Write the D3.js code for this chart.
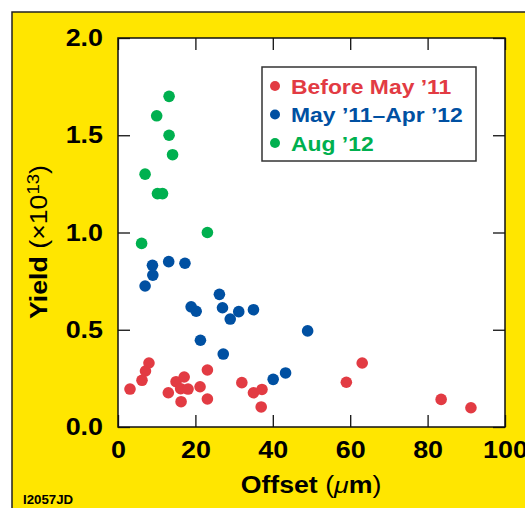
<!DOCTYPE html>
<html lang="en">
<head>
<meta charset="UTF-8">
<script src="https://d3js.org/d3.v7.min.js"></script>
<title>Yield vs Offset</title>
<style>
  body { margin: 0; background: #fff; }
  svg { display: block; }
  text { font-family: 'Liberation Sans', Arial, sans-serif; }
</style>
</head>
<body>
<svg id="canvas"></svg>
<script>
// data: offset (um) and yield (x1e13)
let beforeX = [3.1, 6.2, 7.1, 8.0, 13.0, 15.0, 16.2, 16.3, 17.1, 18.1, 21.2, 23.1, 23.1, 32.0, 35.0, 37.2, 37.0, 59.0, 63.1, 83.5, 91.2]
let beforeY = [0.195, 0.240, 0.288, 0.329, 0.176, 0.233, 0.197, 0.130, 0.257, 0.195, 0.207, 0.293, 0.144, 0.228, 0.176, 0.193, 0.103, 0.230, 0.329, 0.142, 0.099]

let midX = [7.0, 8.9, 9.0, 13.1, 17.3, 18.9, 20.2, 21.3, 26.2, 27.0, 27.2, 29.0, 31.2, 35.0, 40.1, 43.3, 49.0]
let midY = [0.725, 0.831, 0.781, 0.850, 0.842, 0.618, 0.595, 0.446, 0.682, 0.613, 0.375, 0.555, 0.593, 0.603, 0.245, 0.278, 0.494]

let augX = [6.1, 7.0, 10.0, 10.2, 11.5, 13.2, 13.2, 14.1, 23.1]
let augY = [0.944, 1.30, 1.60, 1.20, 1.20, 1.70, 1.50, 1.40, 1.00]

let seriesNames = ['Before May \u201911', 'May \u201911\u2013Apr \u201912', 'Aug \u201912']
let seriesColors = ['#e23b43', '#0050a2', '#00b04f']

let xTicks = [0, 20, 40, 60, 80, 100]
let yTicks = [0, 0.5, 1.0, 1.5, 2.0]

let width = 525
let height = 508
let plotLeft = 118, plotRight = 505, plotTop = 38, plotBottom = 427

let svg = d3.select('#canvas').attr('width', width).attr('height', height)

// the original lettering is a bit wider than Liberation Sans
let stretch = (sel, k) => {
    sel.each(function () {
        let len = this.getComputedTextLength()
        d3.select(this).attr('textLength', len * k).attr('lengthAdjust', 'spacingAndGlyphs')
    })
}

// yellow frame
svg.append('rect')
    .attr('x', 12).attr('y', 12)
    .attr('width', width + 10).attr('height', height + 10)
    .attr('fill', '#ffe600')
    .attr('stroke', '#222').attr('stroke-width', 1.5)

let xScale = d3.scaleLinear().domain([0, 100]).range([plotLeft, plotRight])
let yScale = d3.scaleLinear().domain([0, 2]).range([plotBottom, plotTop])

svg.append('rect')
    .attr('x', plotLeft).attr('y', plotTop)
    .attr('width', plotRight - plotLeft).attr('height', plotBottom - plotTop)
    .attr('fill', '#fff')

let styleAxis = (g) => {
    g.select('.domain').remove()
    g.selectAll('line').attr('stroke', '#111').attr('stroke-width', 1.3)
    g.selectAll('text')
        .attr('fill', '#000')
        .style('font-size', '24px')
        .style('font-weight', 'bold')
        .style('font-family', "'Liberation Sans', Arial, sans-serif")
        .call(stretch, 1.12)
}

svg.append('g')
    .attr('transform', 'translate(0,' + plotBottom + ')')
    .call(d3.axisBottom(xScale).tickValues(xTicks).tickSizeInner(-12).tickSizeOuter(0).tickPadding(14).tickFormat(d3.format('d')))
    .call(styleAxis)
svg.append('g')
    .attr('transform', 'translate(0,' + plotTop + ')')
    .call(d3.axisTop(xScale).tickValues(xTicks).tickSizeInner(-12).tickSizeOuter(0).tickFormat(''))
    .call(styleAxis)
svg.append('g')
    .attr('transform', 'translate(' + plotLeft + ',0)')
    .call(d3.axisLeft(yScale).tickValues(yTicks).tickSizeInner(-12).tickSizeOuter(0).tickPadding(15).tickFormat(d3.format('.1f')))
    .call(styleAxis)
svg.append('g')
    .attr('transform', 'translate(' + plotRight + ',0)')
    .call(d3.axisRight(yScale).tickValues(yTicks).tickSizeInner(-12).tickSizeOuter(0).tickFormat(''))
    .call(styleAxis)

svg.append('rect')
    .attr('x', plotLeft).attr('y', plotTop)
    .attr('width', plotRight - plotLeft).attr('height', plotBottom - plotTop)
    .attr('fill', 'none')
    .attr('stroke', '#111').attr('stroke-width', 1.5)

// points
let series = [
    d3.zip(beforeX, beforeY),
    d3.zip(midX, midY),
    d3.zip(augX, augY)
]
series.forEach((pts, i) => {
    svg.append('g').selectAll('circle')
        .data(pts)
        .enter()
        .append('circle')
        .attr('cx', (d) => xScale(d[0]))
        .attr('cy', (d) => yScale(d[1]))
        .attr('r', 5.8)
        .attr('fill', seriesColors[i])
})

// legend
let legend = svg.append('g')
legend.append('rect')
    .attr('x', 262).attr('y', 67)
    .attr('width', 214).attr('height', 94)
    .attr('fill', '#fff')
    .attr('stroke', '#333').attr('stroke-width', 1.5)
seriesNames.forEach((name, i) => {
    let cy = 86 + i * 28.5
    legend.append('circle')
        .attr('cx', 275).attr('cy', cy).attr('r', 5)
        .attr('fill', seriesColors[i])
    legend.append('text')
        .attr('x', 291).attr('y', cy + 7.5)
        .attr('fill', seriesColors[i])
        .style('font-size', '21px')
        .style('font-weight', 'bold')
        .text(name)
        .call(stretch, 1.09)
})

// axis titles
let xTitle = svg.append('text')
    .attr('x', 311).attr('y', 492.5)
    .attr('text-anchor', 'middle')
    .style('font-size', '23px')
xTitle.append('tspan').style('font-weight', 'bold').text('Offset ')
xTitle.append('tspan').text('(')
xTitle.append('tspan').style('font-style', 'italic').text('\u03bc')
xTitle.append('tspan').style('font-weight', 'bold').text('m')
xTitle.append('tspan').text(')')
xTitle.call(stretch, 1.16)

let yTitle = svg.append('text')
    .attr('transform', 'translate(47,242) rotate(-90)')
    .attr('text-anchor', 'middle')
    .style('font-size', '23px')
yTitle.append('tspan').style('font-weight', 'bold').text('Yield ')
yTitle.append('tspan').text('(\u00d710')
yTitle.append('tspan').attr('dy', -8).style('font-size', '16px').text('13')
yTitle.append('tspan').attr('dy', 8).text(')')
yTitle.call(stretch, 1.16)

svg.append('text')
    .attr('x', 23).attr('y', 504)
    .style('font-size', '12.5px')
    .style('font-weight', 'bold')
    .text('I2057JD')
    .call(stretch, 1.06)
</script>
</body>
</html>
